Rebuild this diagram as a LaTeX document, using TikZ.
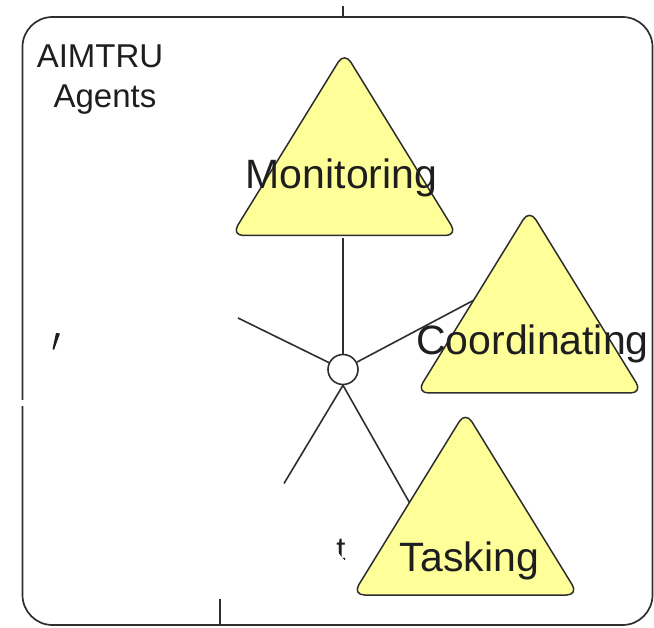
\documentclass[tikz,border=0pt]{standalone}
\usepackage{fontspec}
\setmainfont{Liberation Sans}
\definecolor{triyellow}{HTML}{FFFF99}
\definecolor{linegray}{HTML}{2E2E2E}
\definecolor{textgray}{HTML}{1E1E1E}
\begin{document}
\begin{tikzpicture}[x=1pt,y=-1pt,
  frame/.style={draw=linegray, line width=1.7pt, rounded corners=30pt},
  tri/.style={draw=linegray, fill=triyellow, line width=1.5pt, rounded corners=12pt},
  conn/.style={draw=linegray, line width=1.6pt},
  lbl/.style={font=\fontsize{41}{41}\selectfont, text=textgray, inner sep=0pt, anchor=base},
  small/.style={font=\fontsize{33}{33}\selectfont, text=textgray, inner sep=0pt, anchor=base},
]
\useasboundingbox (0,0) rectangle (654,628);
% frame
\draw[frame] (22.5,17) rectangle (652.5,625);
\fill[white] (19,400) rectangle (27,406);
% ticks
\coordinate (topa) at (343,6);
\coordinate (topb) at (343,17);
\draw[conn] (topa) -- (topb);
\coordinate (bota) at (220,599);
\coordinate (botb) at (220,625);
\draw[conn] (bota) -- (botb);
% hub
\node[circle, draw=linegray, line width=1.6pt, fill=white, minimum size=30pt, inner sep=0pt] (hub) at (343,369.5) {};
% connector end points
\coordinate (monb) at (343,238);
\coordinate (ulend) at (238,318);
\coordinate (coordend) at (477,298.5);
\coordinate (dlend) at (284,483.5);
\coordinate (tasend) at (412,507);
\draw[conn] (hub) -- (monb);
\draw[conn] (hub) -- (ulend);
\draw[conn] (hub) -- (coordend);
\draw[conn] (hub.south) -- (dlend);
\draw[conn] (hub.south) -- (tasend);
% triangles
\draw[tri] (344.5,51.9) -- (457.5,235.5) -- (231.5,235.5) -- cycle;
\draw[tri] (529.5,209.4) -- (642.5,393) -- (416.5,393) -- cycle;
\draw[tri] (465.5,411.4) -- (578.5,595) -- (352.5,595) -- cycle;
% labels
\node[lbl] (mon) at (341.5,189) {Monitoring};
\node[lbl] (coord) at (532.5,355) {Coordinating};
\node[lbl] (task) at (469.5,571) {Tasking};
\node[small] (aimtru) at (100,68) {AIMTRU};
\node[small] (agents) at (105,108) {Agents};
% fragments
\fill[textgray] (56,333) -- (60,333.5) -- (54,350) -- (52.5,349) -- cycle;
\node[small] (tfrag) at (341,560) {t};
\fill[white] (330,543) -- (350,567) -- (318,567) -- (318,543) -- cycle;
\end{tikzpicture}
\end{document}
